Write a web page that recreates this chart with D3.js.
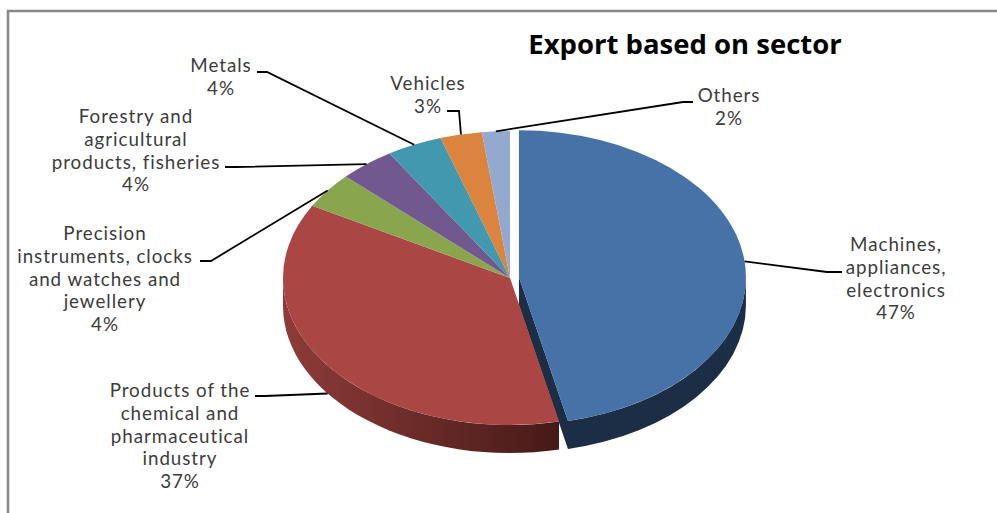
<!DOCTYPE html>
<html lang="en">
<head>
    <meta charset="UTF-8">
    <title>Export based on sector</title>
    <script src="https://d3js.org/d3.v7.min.js"></script>
    <style>
        body {
            margin: 0;
            padding: 0;
            background-color: #ffffff;
            overflow: hidden;
        }

        svg {
            display: block;
        }

        .label {
            font-family: Lato, sans-serif;
            font-size: 18.8px;
            letter-spacing: 0.95px;
            fill: #3c3c3c;
        }
    </style>
</head>
<body>
    <script>
        // Chart data
        const sectors = [
            "Machines, appliances, electronics",
            "Products of the chemical and pharmaceutical industry",
            "Precision instruments, clocks and watches and jewellery",
            "Forestry and agricultural products, fisheries",
            "Metals",
            "Vehicles",
            "Others"
        ];
        const shares = [47, 37, 4, 4, 4, 3, 2];
        const labelLines = [
            ["Machines,", "appliances,", "electronics"],
            ["Products of the", "chemical and", "pharmaceutical", "industry"],
            ["Precision", "instruments, clocks", "and watches and", "jewellery"],
            ["Forestry and", "agricultural", "products, fisheries"],
            ["Metals"],
            ["Vehicles"],
            ["Others"]
        ];
        const topColors = ["#4672a8", "#aa4744", "#89a54e", "#71588f", "#4198af", "#db843d", "#93a9cf"];
        const sideLight = ["#1c2d46", "#8e3c39", "#5b6e33", "#4b3a5f", "#2b6575", "#925828", "#62718a"];
        const sideDark = ["#1c2d46", "#451a17", "#3a4720", "#30253d", "#1b414b", "#5e3819", "#3f4958"];

        const width = 997;
        const height = 513;

        // pie geometry
        const cx = 510, cy = 278;
        const rx = 227, ry = 147;
        const depth = 28;
        const explode = [9, 0, 0, 0, 0, 0, 0];

        // label layout: text centre x, first baseline, leader elbow and end
        const layout = [
            { x: 896, y: 251, elbow: [827, 272], end: [842, 272] },
            { x: 180, y: 397, elbow: [265, 396], end: [255, 396] },
            { x: 105, y: 240, elbow: [211, 261], end: [200, 261] },
            { x: 136, y: 123, elbow: [236, 167], end: [225, 167] },
            { x: 221, y: 72, elbow: [267, 72], end: [257, 72] },
            { x: 428, y: 90, elbow: [459, 111], end: [447, 111] },
            { x: 729, y: 102, elbow: [683, 102], end: [693, 102] }
        ];

        const svg = d3.select("body").append("svg")
            .attr("width", width)
            .attr("height", height);

        // chart frame
        svg.append("rect")
            .attr("x", 8)
            .attr("y", 11)
            .attr("width", 1010)
            .attr("height", 530)
            .attr("fill", "none")
            .attr("stroke", "#888888")
            .attr("stroke-width", 2.5);

        svg.append("text")
            .attr("x", 685)
            .attr("y", 54)
            .attr("text-anchor", "middle")
            .style("font-family", "'Open Sans', sans-serif")
            .style("font-weight", "bold")
            .style("font-size", "27.5px")
            .style("fill", "#000")
            .text("Export based on sector");

        const total = d3.sum(shares);
        const pie = d3.pie().sort(null).value(d => d);
        const slices = pie(shares).map((s, i) => {
            const mid = (s.startAngle + s.endAngle) / 2;
            return Object.assign(s, {
                i: i,
                mid: mid,
                ox: explode[i] * Math.sin(mid),
                oy: -explode[i] * Math.cos(mid) * ry / rx
            });
        });

        function pt(a, ox, oy, dz) {
            return [cx + ox + rx * Math.sin(a), cy + oy - ry * Math.cos(a) + (dz || 0)];
        }

        // gradients for the side walls
        const defs = svg.append("defs");
        slices.forEach(s => {
            const g = defs.append("linearGradient")
                .attr("id", "side" + s.i)
                .attr("x1", "0%").attr("x2", "100%")
                .attr("y1", "0%").attr("y2", "0%");
            g.append("stop").attr("offset", "0%").attr("stop-color", sideLight[s.i]);
            g.append("stop").attr("offset", "100%").attr("stop-color", sideDark[s.i]);
        });

        const walls = svg.append("g");

        // outer walls, front half only
        slices.forEach(s => {
            const b0 = Math.max(s.startAngle, Math.PI / 2);
            const b1 = Math.min(s.endAngle, Math.PI * 3 / 2);
            if (b1 <= b0) return;
            const p0 = pt(b0, s.ox, s.oy), p1 = pt(b1, s.ox, s.oy);
            const q0 = pt(b0, s.ox, s.oy, depth), q1 = pt(b1, s.ox, s.oy, depth);
            walls.append("path")
                .attr("d", `M${p0}A${rx},${ry} 0 0 1 ${p1}L${q1}A${rx},${ry} 0 0 0 ${q0}Z`)
                .attr("fill", "url(#side" + s.i + ")");
        });

        // cut face of the pulled-out slice
        slices.filter(s => explode[s.i] > 0).forEach(s => {
            const c = [cx + s.ox, cy + s.oy];
            const p = pt(s.endAngle, s.ox, s.oy);
            walls.append("path")
                .attr("d", `M${c}L${p}L${[p[0], p[1] + depth]}L${[c[0], c[1] + depth]}Z`)
                .attr("fill", sideDark[s.i]);
        });

        // top faces
        const arc = d3.arc().innerRadius(0).outerRadius(rx);
        svg.append("g").selectAll("path")
            .data(slices)
            .enter().append("path")
            .attr("transform", d => `translate(${cx + d.ox},${cy + d.oy}) scale(1,${ry / rx})`)
            .attr("d", arc)
            .attr("fill", d => topColors[d.i]);

        // leader lines
        svg.append("g").selectAll("path")
            .data(slices)
            .enter().append("path")
            .attr("d", d => {
                const lower = Math.cos(d.mid) < 0;
                const a = pt(d.mid, d.ox, d.oy, lower ? depth : 0);
                const l = layout[d.i];
                return `M${a}L${l.elbow}L${l.end}`;
            })
            .attr("fill", "none")
            .attr("stroke", "#000")
            .attr("stroke-width", 1.8);

        // labels
        const lineH = 22.8;
        const labels = svg.append("g").selectAll("text")
            .data(slices)
            .enter().append("text")
            .attr("class", "label")
            .attr("text-anchor", "middle");

        labels.each(function(d) {
            const l = layout[d.i];
            const lines = labelLines[d.i].concat([Math.round(d.data / total * 100) + "%"]);
            d3.select(this).selectAll("tspan")
                .data(lines)
                .enter().append("tspan")
                .attr("x", l.x)
                .attr("y", (t, k) => l.y + k * lineH)
                .text(t => t);
        });
    </script>
</body>
</html>
